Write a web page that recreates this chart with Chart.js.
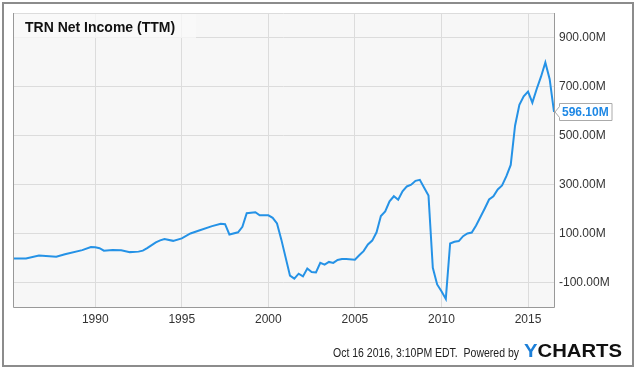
<!DOCTYPE html>
<html>
<head>
<meta charset="utf-8">
<script src="https://cdn.jsdelivr.net/npm/chart.js@4.4.0/dist/chart.umd.min.js"></script>
<style>
  html, body { margin: 0; padding: 0; background: #fff; }
  #wrap { width: 640px; height: 370px; position: relative; }
</style>
</head>
<body>
<div id="wrap"><canvas id="chart" width="640" height="370"></canvas></div>
<script>
// --- DATA (quarterly TTM net income, millions USD) ---
const years = [
  1985.25, 1986.0, 1986.75, 1987.75, 1988.25, 1989.25, 1989.75, 1990.0, 1990.25, 1990.5,
  1991.0, 1991.5, 1992.0, 1992.5, 1992.75, 1993.0, 1993.5, 1993.75, 1994.0, 1994.5,
  1995.0, 1995.5, 1996.0, 1996.75, 1997.25, 1997.5, 1997.75, 1998.25, 1998.5, 1998.75,
  1999.25, 1999.5, 2000.0, 2000.25, 2000.5, 2000.75, 2001.25, 2001.5, 2001.75, 2002.0,
  2002.25, 2002.5, 2002.75, 2003.0, 2003.25, 2003.5, 2003.75, 2004.0, 2004.25, 2004.5,
  2005.0, 2005.25, 2005.5, 2005.75, 2006.0, 2006.25, 2006.5, 2006.75, 2007.0, 2007.25,
  2007.5, 2007.75, 2008.0, 2008.25, 2008.5, 2008.75, 2009.0, 2009.25, 2009.5, 2009.75,
  2010.0, 2010.25, 2010.5, 2010.75, 2011.0, 2011.25, 2011.5, 2011.75, 2012.0, 2012.25,
  2012.5, 2012.75, 2013.0, 2013.25, 2013.5, 2013.75, 2014.0, 2014.25, 2014.5, 2014.75,
  2015.0, 2015.25, 2015.5, 2015.75, 2016.0, 2016.25, 2016.5
];
const netIncome = [
  -2, -2, 10, 5, 15, 32, 45, 44, 40, 30,
  33, 32, 24, 26, 30, 40, 64, 72, 77, 70,
  80, 100, 112, 130, 140, 138, 96, 105, 127, 183,
  187, 174, 174, 164, 141, 75, -72, -84, -64, -75,
  -43, -57, -59, -20, -27, -16, -20, -8, -4, -4,
  -7, 11, 28, 55, 71, 105, 171, 190, 231, 252,
  238, 272, 292, 299, 315, 319, 287, 255, -40, -108,
  -136, -167, 59, 66, 69, 89, 100, 104, 133, 167,
  202, 239, 252, 280, 296, 334, 380, 540, 625, 660,
  679, 634, 690, 740, 798, 730, 596.1
];
const yTicks = [-100, 100, 300, 500, 700, 900];
const xTicks = [1990, 1995, 2000, 2005, 2010, 2015];
const lastLabel = '596.10M';

const FONT = '"Liberation Sans", Arial, sans-serif';
const LINE_COLOR = '#2592e6';

// малює текст, стиснутий до заданої ширини
const fitText = (ctx, text, x, y, width) => {
  const w = ctx.measureText(text).width;
  ctx.save();
  ctx.translate(x, y);
  ctx.scale(Math.min(1, width / w), 1);
  ctx.fillText(text, 0, 0);
  ctx.restore();
};

// --- ДЕКОР: фон, рамки, заголовок, футер ---
const decor = {
  id: 'decor',
  beforeDraw(chart) {
    const { ctx, chartArea: a } = chart;
    ctx.save();
    ctx.fillStyle = '#fff';
    ctx.fillRect(0, 0, chart.width, chart.height);
    ctx.fillStyle = '#f7f7f7';
    ctx.fillRect(a.left, a.top, a.right - a.left, a.bottom - a.top);
    ctx.restore();
  },
  beforeDatasetsDraw(chart) {
    const { ctx, chartArea: a } = chart;
    ctx.save();
    ctx.strokeStyle = '#dcdcdc';
    ctx.lineWidth = 1;
    ctx.beginPath();
    ctx.moveTo(a.left, a.top + 0.5);
    ctx.lineTo(a.right, a.top + 0.5);
    ctx.stroke();
    // title box
    ctx.fillStyle = 'rgba(250,250,250,0.75)';
    ctx.fillRect(a.left + 1, a.top + 1, 182, 24);
    ctx.fillStyle = '#111';
    ctx.font = 'bold 14px ' + FONT;
    ctx.textBaseline = 'alphabetic';
    ctx.fillText('TRN Net Income (TTM)', 25, 32);
    ctx.restore();
  },
  afterDraw(chart) {
    const { ctx, chartArea: a } = chart;
    ctx.save();
    // plot frame (left, bottom, right)
    ctx.strokeStyle = '#999';
    ctx.lineWidth = 1;
    ctx.beginPath();
    ctx.moveTo(a.left + 0.5, a.top);
    ctx.lineTo(a.left + 0.5, a.bottom + 0.5);
    ctx.lineTo(a.right + 0.5, a.bottom + 0.5);
    ctx.lineTo(a.right + 0.5, a.top);
    ctx.stroke();
    // outer frame
    ctx.strokeStyle = '#8c8c8c';
    ctx.lineWidth = 2;
    ctx.strokeRect(3, 3, 630, 363);

    // last value tag
    const yPix = chart.scales.y.getPixelForValue(netIncome[netIncome.length - 1]);
    const bx = 559, bw = 53, bh = 17, by = Math.round(yPix) - 8.5;
    ctx.fillStyle = '#fff';
    ctx.strokeStyle = '#aaa';
    ctx.lineWidth = 1;
    ctx.beginPath();
    ctx.moveTo(a.right + 1, yPix);
    ctx.lineTo(bx + 0.5, by + 3);
    ctx.lineTo(bx + 0.5, by);
    ctx.lineTo(bx + bw, by);
    ctx.lineTo(bx + bw, by + bh);
    ctx.lineTo(bx + 0.5, by + bh);
    ctx.lineTo(bx + 0.5, by + bh - 3);
    ctx.closePath();
    ctx.fill();
    ctx.stroke();
    ctx.fillStyle = '#1e88e5';
    ctx.font = 'bold 12px ' + FONT;
    ctx.textBaseline = 'middle';
    ctx.fillText(lastLabel, bx + 3, yPix + 0.5);

    // footer
    ctx.textBaseline = 'alphabetic';
    ctx.fillStyle = '#222';
    ctx.font = '12px ' + FONT;
    fitText(ctx, 'Oct 16 2016, 3:10PM EDT.  Powered by', 333, 357, 186);

    ctx.font = 'bold 19px ' + FONT;
    const wY = ctx.measureText('Y').width;
    const wAll = ctx.measureText('YCHARTS').width;
    const sx = 98 / wAll;
    ctx.translate(524, 357);
    ctx.scale(sx, 1);
    ctx.fillStyle = '#1c7fd8';
    ctx.fillText('Y', 0, 0);
    ctx.fillStyle = '#111';
    ctx.fillText('CHARTS', wY, 0);
    ctx.restore();
  }
};

const ctx = document.getElementById('chart');
new Chart(ctx, {
  type: 'line',
  data: {
    datasets: [{
      data: years.map((x, i) => ({ x, y: netIncome[i] })),
      borderColor: LINE_COLOR,
      borderWidth: 2,
      pointRadius: 0,
      tension: 0,
      fill: false
    }]
  },
  options: {
    responsive: false,
    animation: false,
    events: [],
    layout: { padding: { left: 13, top: 13, right: 0, bottom: 0 } },
    plugins: { legend: { display: false }, tooltip: { enabled: false } },
    scales: {
      x: {
        type: 'linear',
        min: 1985.25,
        max: 2016.5,
        afterBuildTicks: (s) => { s.ticks = xTicks.map(v => ({ value: v })); },
        afterFit: (s) => { s.height = 63; },
        grid: { color: '#dcdcdc', drawTicks: false },
        border: { display: false },
        ticks: {
          padding: 5,
          color: '#333',
          font: { family: FONT, size: 12 },
          callback: (v) => String(v),
          maxRotation: 0
        }
      },
      y: {
        position: 'right',
        min: -200,
        max: 1000,
        afterBuildTicks: (s) => { s.ticks = yTicks.map(v => ({ value: v })); },
        afterFit: (s) => { s.width = 86; },
        grid: { color: '#dcdcdc', drawTicks: false },
        border: { display: false },
        ticks: {
          padding: 5,
          color: '#333',
          font: { family: FONT, size: 12 },
          callback: (v) => v.toFixed(2) + 'M'
        }
      }
    }
  },
  plugins: [decor]
});
</script>
</body>
</html>
